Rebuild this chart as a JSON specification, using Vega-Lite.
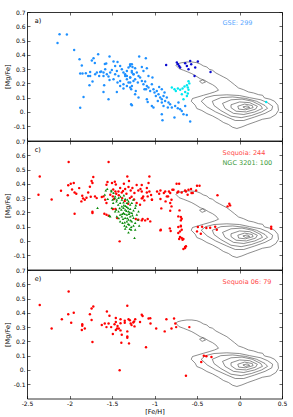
{
"$schema": "https://vega.github.io/schema/vega-lite/v6.json",
"background": "white",
"padding": {"left": 4, "top": 9, "right": 6, "bottom": 4},
"spacing": 0,
"bounds": "flush",
"config": {"font": "DejaVu Sans", "view": {"stroke": null},
  "axis": {"grid": false, "domainColor": "black", "tickColor": "black", "domainWidth": 0.8, "tickWidth": 0.6, "labelFontSize": 6, "labelColor": "black", "titleFontSize": 6.5, "titleFontWeight": "normal", "titleColor": "black", "labelFlush": false}},
"datasets": {
"contour": [
{"lev":1,"o":1,"x":-0.749,"y":0.327},{"lev":1,"o":2,"x":-0.725,"y":0.338},{"lev":1,"o":3,"x":-0.678,"y":0.345},{"lev":1,"o":4,"x":-0.619,"y":0.350},{"lev":1,"o":5,"x":-0.561,"y":0.350},{"lev":1,"o":6,"x":-0.502,"y":0.345},{"lev":1,"o":7,"x":-0.463,"y":0.336},{"lev":1,"o":8,"x":-0.423,"y":0.322},{"lev":1,"o":9,"x":-0.384,"y":0.315},{"lev":1,"o":10,"x":-0.357,"y":0.299},{"lev":1,"o":11,"x":-0.317,"y":0.292},{"lev":1,"o":12,"x":-0.278,"y":0.273},{"lev":1,"o":13,"x":-0.239,"y":0.261},{"lev":1,"o":14,"x":-0.188,"y":0.245},{"lev":1,"o":15,"x":-0.149,"y":0.233},{"lev":1,"o":16,"x":-0.110,"y":0.215},{"lev":1,"o":17,"x":-0.059,"y":0.191},{"lev":1,"o":18,"x":-0.012,"y":0.168},{"lev":1,"o":19,"x":0.047,"y":0.156},{"lev":1,"o":20,"x":0.106,"y":0.140},{"lev":1,"o":21,"x":0.165,"y":0.133},{"lev":1,"o":22,"x":0.224,"y":0.121},{"lev":1,"o":23,"x":0.271,"y":0.117},{"lev":1,"o":24,"x":0.294,"y":0.098},{"lev":1,"o":25,"x":0.361,"y":0.089},{"lev":1,"o":26,"x":0.412,"y":0.075},{"lev":1,"o":27,"x":0.451,"y":0.047},{"lev":1,"o":28,"x":0.459,"y":0.012},{"lev":1,"o":29,"x":0.428,"y":-0.018},{"lev":1,"o":30,"x":0.361,"y":-0.042},{"lev":1,"o":31,"x":0.271,"y":-0.051},{"lev":1,"o":32,"x":0.184,"y":-0.070},{"lev":1,"o":33,"x":0.098,"y":-0.088},{"lev":1,"o":34,"x":0.028,"y":-0.105},{"lev":1,"o":35,"x":-0.031,"y":-0.116},{"lev":1,"o":36,"x":-0.082,"y":-0.107},{"lev":1,"o":37,"x":-0.129,"y":-0.088},{"lev":1,"o":38,"x":-0.188,"y":-0.074},{"lev":1,"o":39,"x":-0.247,"y":-0.051},{"lev":1,"o":40,"x":-0.317,"y":-0.028},{"lev":1,"o":41,"x":-0.384,"y":-0.011},{"lev":1,"o":42,"x":-0.443,"y":0.010},{"lev":1,"o":43,"x":-0.502,"y":0.024},{"lev":1,"o":44,"x":-0.521,"y":0.047},{"lev":1,"o":45,"x":-0.568,"y":0.075},{"lev":1,"o":46,"x":-0.553,"y":0.094},{"lev":1,"o":47,"x":-0.490,"y":0.105},{"lev":1,"o":48,"x":-0.423,"y":0.117},{"lev":1,"o":49,"x":-0.357,"y":0.128},{"lev":1,"o":50,"x":-0.294,"y":0.140},{"lev":1,"o":51,"x":-0.247,"y":0.152},{"lev":1,"o":52,"x":-0.278,"y":0.175},{"lev":1,"o":53,"x":-0.317,"y":0.191},{"lev":1,"o":54,"x":-0.365,"y":0.205},{"lev":1,"o":55,"x":-0.412,"y":0.222},{"lev":1,"o":56,"x":-0.463,"y":0.233},{"lev":1,"o":57,"x":-0.513,"y":0.252},{"lev":1,"o":58,"x":-0.561,"y":0.268},{"lev":1,"o":59,"x":-0.608,"y":0.280},{"lev":1,"o":60,"x":-0.659,"y":0.292},{"lev":1,"o":61,"x":-0.710,"y":0.303},{"lev":1,"o":62,"x":-0.749,"y":0.327},
{"lev":2,"o":1,"x":-0.45,"y":0.075},{"lev":2,"o":2,"x":-0.40,"y":0.10},{"lev":2,"o":3,"x":-0.30,"y":0.115},{"lev":2,"o":4,"x":-0.15,"y":0.12},{"lev":2,"o":5,"x":0.0,"y":0.115},{"lev":2,"o":6,"x":0.12,"y":0.10},{"lev":2,"o":7,"x":0.25,"y":0.085},{"lev":2,"o":8,"x":0.33,"y":0.065},{"lev":2,"o":9,"x":0.39,"y":0.04},{"lev":2,"o":10,"x":0.38,"y":0.015},{"lev":2,"o":11,"x":0.30,"y":-0.01},{"lev":2,"o":12,"x":0.18,"y":-0.035},{"lev":2,"o":13,"x":0.05,"y":-0.06},{"lev":2,"o":14,"x":-0.05,"y":-0.06},{"lev":2,"o":15,"x":-0.15,"y":-0.035},{"lev":2,"o":16,"x":-0.28,"y":0.0},{"lev":2,"o":17,"x":-0.38,"y":0.035},{"lev":2,"o":18,"x":-0.45,"y":0.075},
{"lev":3,"o":1,"x":-0.32,"y":0.075},{"lev":3,"o":2,"x":-0.22,"y":0.10},{"lev":3,"o":3,"x":-0.08,"y":0.105},{"lev":3,"o":4,"x":0.07,"y":0.095},{"lev":3,"o":5,"x":0.20,"y":0.075},{"lev":3,"o":6,"x":0.30,"y":0.045},{"lev":3,"o":7,"x":0.33,"y":0.025},{"lev":3,"o":8,"x":0.26,"y":0.0},{"lev":3,"o":9,"x":0.14,"y":-0.025},{"lev":3,"o":10,"x":0.02,"y":-0.04},{"lev":3,"o":11,"x":-0.10,"y":-0.03},{"lev":3,"o":12,"x":-0.22,"y":0.01},{"lev":3,"o":13,"x":-0.30,"y":0.045},{"lev":3,"o":14,"x":-0.32,"y":0.075},
{"lev":4,"o":1,"x":-0.20,"y":0.06},{"lev":4,"o":2,"x":-0.10,"y":0.085},{"lev":4,"o":3,"x":0.03,"y":0.09},{"lev":4,"o":4,"x":0.15,"y":0.075},{"lev":4,"o":5,"x":0.25,"y":0.045},{"lev":4,"o":6,"x":0.27,"y":0.025},{"lev":4,"o":7,"x":0.18,"y":0.0},{"lev":4,"o":8,"x":0.05,"y":-0.018},{"lev":4,"o":9,"x":-0.07,"y":-0.01},{"lev":4,"o":10,"x":-0.17,"y":0.025},{"lev":4,"o":11,"x":-0.20,"y":0.06},
{"lev":5,"o":1,"x":-0.10,"y":0.05},{"lev":5,"o":2,"x":0.0,"y":0.07},{"lev":5,"o":3,"x":0.12,"y":0.065},{"lev":5,"o":4,"x":0.21,"y":0.04},{"lev":5,"o":5,"x":0.19,"y":0.02},{"lev":5,"o":6,"x":0.08,"y":0.0},{"lev":5,"o":7,"x":-0.04,"y":0.005},{"lev":5,"o":8,"x":-0.10,"y":0.03},{"lev":5,"o":9,"x":-0.10,"y":0.05},
{"lev":6,"o":1,"x":-0.02,"y":0.04},{"lev":6,"o":2,"x":0.06,"y":0.055},{"lev":6,"o":3,"x":0.15,"y":0.045},{"lev":6,"o":4,"x":0.16,"y":0.03},{"lev":6,"o":5,"x":0.07,"y":0.015},{"lev":6,"o":6,"x":-0.01,"y":0.02},{"lev":6,"o":7,"x":-0.02,"y":0.04},
{"lev":7,"o":1,"x":0.04,"y":0.035},{"lev":7,"o":2,"x":0.09,"y":0.042},{"lev":7,"o":3,"x":0.12,"y":0.032},{"lev":7,"o":4,"x":0.07,"y":0.025},{"lev":7,"o":5,"x":0.04,"y":0.035},
{"lev":8,"o":1,"x":-0.47,"y":0.215},{"lev":8,"o":2,"x":-0.43,"y":0.225},{"lev":8,"o":3,"x":-0.40,"y":0.21},{"lev":8,"o":4,"x":-0.44,"y":0.2},{"lev":8,"o":5,"x":-0.47,"y":0.215}
],
"gse": [
{"c":"g","x":-2.117,"y":0.544},{"c":"g","x":-2.031,"y":0.542},{"c":"g","x":-2.141,"y":0.483},{"c":"g","x":-1.945,"y":0.434},{"c":"g","x":-1.882,"y":0.369},{"c":"g","x":-1.855,"y":0.325},{"c":"g","x":-1.717,"y":0.376},{"c":"g","x":-1.737,"y":0.360},{"c":"g","x":-1.663,"y":0.404},{"c":"g","x":-1.702,"y":0.343},{"c":"g","x":-1.874,"y":0.269},{"c":"g","x":-1.847,"y":0.269},{"c":"g","x":-1.808,"y":0.271},{"c":"g","x":-1.757,"y":0.280},{"c":"g","x":-1.780,"y":0.252},{"c":"g","x":-1.757,"y":0.252},{"c":"g","x":-1.729,"y":0.213},{"c":"g","x":-1.765,"y":0.187},{"c":"g","x":-1.835,"y":0.105},{"c":"g","x":-1.874,"y":0.029},{"c":"g","x":-1.698,"y":0.264},{"c":"g","x":-1.678,"y":0.276},{"c":"g","x":-1.639,"y":0.280},{"c":"g","x":-1.600,"y":0.276},{"c":"g","x":-1.651,"y":0.252},{"c":"g","x":-1.600,"y":0.252},{"c":"g","x":-1.561,"y":0.264},{"c":"g","x":-1.627,"y":0.283},{"c":"g","x":-1.580,"y":0.299},{"c":"g","x":-1.568,"y":0.339},{"c":"g","x":-1.584,"y":0.336},{"c":"g","x":-1.529,"y":0.388},{"c":"g","x":-1.482,"y":0.353},{"c":"g","x":-1.435,"y":0.350},{"c":"g","x":-1.463,"y":0.322},{"c":"g","x":-1.502,"y":0.294},{"c":"g","x":-1.521,"y":0.276},{"c":"g","x":-1.541,"y":0.248},{"c":"g","x":-1.529,"y":0.224},{"c":"g","x":-1.592,"y":0.187},{"c":"g","x":-1.600,"y":0.140},{"c":"g","x":-1.541,"y":0.089},{"c":"g","x":-1.443,"y":0.287},{"c":"g","x":-1.463,"y":0.264},{"c":"g","x":-1.423,"y":0.252},{"c":"g","x":-1.482,"y":0.229},{"c":"g","x":-1.404,"y":0.217},{"c":"g","x":-1.435,"y":0.206},
{"c":"g","x":-1.404,"y":0.322},{"c":"g","x":-1.384,"y":0.299},{"c":"g","x":-1.365,"y":0.276},{"c":"g","x":-1.345,"y":0.252},{"c":"g","x":-1.325,"y":0.229},{"c":"g","x":-1.306,"y":0.206},{"c":"g","x":-1.404,"y":0.182},{"c":"g","x":-1.365,"y":0.194},{"c":"g","x":-1.345,"y":0.264},{"c":"g","x":-1.325,"y":0.287},{"c":"g","x":-1.306,"y":0.311},{"c":"g","x":-1.286,"y":0.322},{"c":"g","x":-1.266,"y":0.334},{"c":"g","x":-1.325,"y":0.252},{"c":"g","x":-1.286,"y":0.241},{"c":"g","x":-1.266,"y":0.276},{"c":"g","x":-1.247,"y":0.264},{"c":"g","x":-1.286,"y":0.206},{"c":"g","x":-1.247,"y":0.217},{"c":"g","x":-1.325,"y":0.182},{"c":"g","x":-1.365,"y":0.164},{"c":"g","x":-1.286,"y":0.171},{"c":"g","x":-1.266,"y":0.182},{"c":"g","x":-1.274,"y":0.159},{"c":"g","x":-1.443,"y":0.140},{"c":"g","x":-1.266,"y":0.047},
{"c":"g","x":-1.180,"y":0.388},{"c":"g","x":-1.102,"y":0.376},{"c":"g","x":-1.286,"y":0.334},{"c":"g","x":-1.259,"y":0.315},{"c":"g","x":-1.228,"y":0.306},{"c":"g","x":-1.267,"y":0.287},{"c":"g","x":-1.208,"y":0.276},{"c":"g","x":-1.247,"y":0.264},{"c":"g","x":-1.188,"y":0.252},{"c":"g","x":-1.286,"y":0.241},{"c":"g","x":-1.228,"y":0.229},{"c":"g","x":-1.169,"y":0.241},{"c":"g","x":-1.149,"y":0.217},{"c":"g","x":-1.196,"y":0.206},{"c":"g","x":-1.130,"y":0.194},{"c":"g","x":-1.110,"y":0.213},{"c":"g","x":-1.090,"y":0.182},{"c":"g","x":-1.118,"y":0.159},{"c":"g","x":-1.071,"y":0.171},{"c":"g","x":-1.051,"y":0.147},{"c":"g","x":-1.031,"y":0.194},{"c":"g","x":-1.012,"y":0.159},{"c":"g","x":-1.024,"y":0.241},{"c":"g","x":-1.071,"y":0.252},{"c":"g","x":-1.130,"y":0.287},{"c":"g","x":-1.149,"y":0.315},{"c":"g","x":-1.090,"y":0.306},{"c":"g","x":-1.000,"y":0.136},{"c":"g","x":-0.984,"y":0.112},{"c":"g","x":-0.953,"y":0.124},{"c":"g","x":-0.933,"y":0.101},{"c":"g","x":-0.914,"y":0.089},{"c":"g","x":-0.894,"y":0.112},{"c":"g","x":-0.875,"y":0.077},{"c":"g","x":-0.855,"y":0.101},{"c":"g","x":-0.835,"y":0.066},{"c":"g","x":-0.816,"y":0.054},{"c":"g","x":-0.796,"y":0.031},{"c":"g","x":-0.843,"y":0.031},{"c":"g","x":-0.894,"y":0.042},{"c":"g","x":-0.914,"y":0.066},{"c":"g","x":-0.961,"y":0.077},{"c":"g","x":-0.973,"y":0.147},{"c":"g","x":-0.945,"y":0.175},{"c":"g","x":-0.914,"y":0.159},{"c":"g","x":-0.882,"y":0.136},{"c":"g","x":-0.757,"y":0.042},{"c":"g","x":-0.726,"y":0.026},{"c":"g","x":-0.698,"y":0.019},{"c":"g","x":-0.679,"y":0.007},{"c":"g","x":-0.639,"y":0.042},{"c":"g","x":-0.659,"y":-0.016},{"c":"g","x":-0.620,"y":-0.021},{"c":"g","x":-0.718,"y":0.066},{"c":"g","x":-1.275,"y":0.054},{"c":"g","x":-1.228,"y":0.124},{"c":"g","x":-1.220,"y":0.147},{"c":"g","x":-1.188,"y":0.101},{"c":"g","x":-1.090,"y":0.089},{"c":"g","x":-1.031,"y":0.042},{"c":"g","x":-1.012,"y":0.031},{"c":"g","x":-0.914,"y":-0.016},{"c":"g","x":-0.906,"y":-0.058},{"c":"g","x":-0.765,"y":-0.039},{"c":"g","x":-0.580,"y":-0.067},{"c":"g","x":-1.10,"y":0.159},{"c":"g","x":-1.08,"y":0.07},
{"c":"cy","x":-0.796,"y":0.171},{"c":"cy","x":-0.765,"y":0.159},{"c":"cy","x":-0.725,"y":0.164},{"c":"cy","x":-0.698,"y":0.155},{"c":"cy","x":-0.670,"y":0.164},{"c":"cy","x":-0.647,"y":0.178},{"c":"cy","x":-0.619,"y":0.187},{"c":"cy","x":-0.608,"y":0.171},{"c":"cy","x":-0.600,"y":0.155},{"c":"cy","x":-0.639,"y":0.140},{"c":"cy","x":-0.678,"y":0.124},{"c":"cy","x":-0.619,"y":0.112},{"c":"cy","x":-0.659,"y":0.089},{"c":"cy","x":-0.608,"y":0.129},{"c":"cy","x":-0.749,"y":0.147},{"c":"cy","x":0.314,"y":0.07},{"c":"cy","x":-0.59,"y":0.2},{"c":"cy","x":-0.60,"y":0.215},
{"c":"d","x":-0.863,"y":0.329},{"c":"d","x":-0.737,"y":0.346},{"c":"d","x":-0.725,"y":0.334},{"c":"d","x":-0.710,"y":0.322},{"c":"d","x":-0.698,"y":0.311},{"c":"d","x":-0.639,"y":0.341},{"c":"d","x":-0.619,"y":0.322},{"c":"d","x":-0.580,"y":0.357},{"c":"d","x":-0.568,"y":0.334},{"c":"d","x":-0.490,"y":0.353},{"c":"d","x":-0.600,"y":0.299},{"c":"d","x":-0.521,"y":0.311},{"c":"d","x":-0.529,"y":0.252},{"c":"d","x":-0.341,"y":0.280}
],
"seq": [
{"x":-2.01,"y":0.553},{"x":-1.54,"y":0.553},{"x":-2.35,"y":0.452},{"x":-2.365,"y":0.324},{"x":-2.21,"y":0.29},{"x":-2.10,"y":0.352},{"x":-2.015,"y":0.39},{"x":-1.985,"y":0.40},{"x":-1.95,"y":0.406},{"x":-1.97,"y":0.36},{"x":-1.94,"y":0.34},{"x":-1.92,"y":0.33},{"x":-2.02,"y":0.32},{"x":-1.886,"y":0.37},{"x":-1.94,"y":0.19},{"x":-1.85,"y":0.317},{"x":-1.84,"y":0.298},{"x":-1.82,"y":0.289},{"x":-1.80,"y":0.303},{"x":-1.86,"y":0.277},{"x":-1.78,"y":0.34},{"x":-1.76,"y":0.38},{"x":-1.74,"y":0.42},{"x":-1.72,"y":0.448},{"x":-1.73,"y":0.406},{"x":-1.75,"y":0.31},{"x":-1.73,"y":0.205},{"x":-1.73,"y":0.196},{"x":-1.70,"y":0.312},{"x":-1.68,"y":0.30},{"x":-1.62,"y":0.308},{"x":-1.60,"y":0.312},{"x":-1.553,"y":0.413},{"x":-1.565,"y":0.394},{"x":-1.565,"y":0.266},{"x":-1.58,"y":0.289},{"x":-1.59,"y":0.19},{"x":-1.565,"y":0.184},{"x":-1.54,"y":0.177},{"x":-1.50,"y":0.406},{"x":-1.467,"y":0.415},{"x":-1.455,"y":0.396},{"x":-1.486,"y":0.36},{"x":-1.46,"y":0.347},{"x":-1.52,"y":0.324},{"x":-1.49,"y":0.312},{"x":-1.475,"y":0.294},{"x":-1.44,"y":0.16},{"x":-1.41,"y":-0.003},{"x":-1.49,"y":0.224},{"x":-1.46,"y":0.224},
{"x":-1.32,"y":0.452},{"x":-1.06,"y":0.452},{"x":-1.404,"y":0.371},{"x":-1.424,"y":0.347},{"x":-1.385,"y":0.34},{"x":-1.345,"y":0.364},{"x":-1.306,"y":0.378},{"x":-1.28,"y":0.354},{"x":-1.26,"y":0.371},{"x":-1.236,"y":0.336},{"x":-1.21,"y":0.392},{"x":-1.19,"y":0.354},{"x":-1.15,"y":0.392},{"x":-1.165,"y":0.364},{"x":-1.133,"y":0.312},{"x":-1.09,"y":0.34},{"x":-1.06,"y":0.347},{"x":-1.07,"y":0.406},{"x":-1.04,"y":0.322},{"x":-1.03,"y":0.289},{"x":-1.08,"y":0.312},{"x":-1.15,"y":0.298},{"x":-1.12,"y":0.284},{"x":-1.21,"y":0.266},{"x":-1.17,"y":0.254},{"x":-1.15,"y":0.144},{"x":-1.08,"y":0.154},{"x":-1.05,"y":0.137},{"x":-0.93,"y":0.354},{"x":-0.89,"y":0.336},{"x":-0.83,"y":0.347},{"x":-0.79,"y":0.359},{"x":-0.73,"y":0.34},{"x":-0.71,"y":0.40},{"x":-0.63,"y":0.347},{"x":-0.61,"y":0.324},{"x":-0.55,"y":0.336},{"x":-0.51,"y":0.354},{"x":-0.47,"y":0.387},{"x":-0.57,"y":0.364},{"x":-0.93,"y":0.294},{"x":-0.87,"y":0.277},{"x":-0.84,"y":0.312},{"x":-0.80,"y":0.289},{"x":-0.815,"y":0.212},{"x":-0.92,"y":0.228},{"x":-0.72,"y":0.172},{"x":-0.69,"y":0.144},{"x":-0.93,"y":0.074},{"x":-0.82,"y":0.088},{"x":-0.81,"y":0.07},{"x":-0.72,"y":0.056},{"x":-0.70,"y":0.028},{"x":-0.66,"y":0.014},{"x":-0.71,"y":0.014},{"x":-0.64,"y":-0.049},{"x":-0.63,"y":-0.037},{"x":-0.72,"y":0.098},{"x":-0.69,"y":0.107},
{"x":-0.74,"y":0.40},{"x":-0.50,"y":0.387},{"x":-0.259,"y":0.32},{"x":-0.12,"y":0.261},{"x":-0.11,"y":0.249},{"x":-0.14,"y":0.242},{"x":0.373,"y":0.10},{"x":0.373,"y":0.086},{"x":-0.49,"y":0.098},{"x":-0.44,"y":0.10},{"x":-0.39,"y":0.09},{"x":-0.345,"y":0.093},{"x":-0.286,"y":0.10},{"x":-0.267,"y":0.079},{"x":-0.455,"y":0.051},{"x":-0.50,"y":0.067},{"x":-0.68,"y":0.156},{"x":-0.69,"y":0.102},{"x":-0.68,"y":0.079},{"x":-0.70,"y":0.067},{"x":-0.68,"y":0.021},{"x":-0.67,"y":0.009},{"x":-0.64,"y":-0.042},{"x":-0.66,"y":-0.056},{"x":-0.926,"y":0.079},{"x":-1.15,"y":0.347},{"x":-1.09,"y":0.371},{"x":-1.14,"y":0.301},{"x":-1.03,"y":0.289},{"x":-0.97,"y":0.347},{"x":-0.945,"y":0.331},{"x":-0.874,"y":0.347},{"x":-0.855,"y":0.312},{"x":-0.815,"y":0.336},{"x":-0.776,"y":0.359},{"x":-0.72,"y":0.347},{"x":-0.68,"y":0.34},{"x":-0.64,"y":0.354},{"x":-0.60,"y":0.359},{"x":-0.565,"y":0.336},{"x":-1.19,"y":0.149},{"x":-1.14,"y":0.154},{"x":-1.11,"y":0.144},{"x":-0.815,"y":0.266},{"x":-0.80,"y":0.242},{"x":-0.706,"y":0.214},{"x":-0.69,"y":0.168},{"x":-1.22,"y":0.154},
{"x":-1.38,"y":0.30},{"x":-1.33,"y":0.33},{"x":-1.29,"y":0.30},{"x":-1.35,"y":0.28},{"x":-1.42,"y":0.32},{"x":-1.27,"y":0.31},{"x":-1.31,"y":0.26},{"x":-1.37,"y":0.35},{"x":-1.24,"y":0.29},{"x":-1.45,"y":0.33},{"x":-1.30,"y":0.42},{"x":-1.36,"y":0.40}
],
"ngc": [
{"x":-1.510,"y":0.354},{"x":-1.482,"y":0.336},{"x":-1.463,"y":0.312},{"x":-1.494,"y":0.289},{"x":-1.443,"y":0.289},{"x":-1.423,"y":0.301},{"x":-1.404,"y":0.266},{"x":-1.384,"y":0.289},{"x":-1.365,"y":0.270},{"x":-1.345,"y":0.294},{"x":-1.325,"y":0.266},{"x":-1.306,"y":0.277},{"x":-1.286,"y":0.254},{"x":-1.267,"y":0.266},{"x":-1.384,"y":0.242},{"x":-1.365,"y":0.231},{"x":-1.345,"y":0.219},{"x":-1.325,"y":0.238},{"x":-1.306,"y":0.207},{"x":-1.286,"y":0.224},{"x":-1.267,"y":0.196},{"x":-1.247,"y":0.214},{"x":-1.227,"y":0.231},{"x":-1.208,"y":0.184},{"x":-1.188,"y":0.207},{"x":-1.423,"y":0.207},{"x":-1.404,"y":0.184},{"x":-1.384,"y":0.172},{"x":-1.365,"y":0.196},{"x":-1.345,"y":0.161},{"x":-1.325,"y":0.184},{"x":-1.306,"y":0.149},{"x":-1.286,"y":0.172},{"x":-1.267,"y":0.137},{"x":-1.247,"y":0.161},{"x":-1.227,"y":0.126},{"x":-1.404,"y":0.137},{"x":-1.376,"y":0.126},{"x":-1.353,"y":0.107},{"x":-1.325,"y":0.137},{"x":-1.298,"y":0.114},{"x":-1.274,"y":0.098},{"x":-1.247,"y":0.107},{"x":-1.227,"y":0.079},{"x":-1.345,"y":0.086},{"x":-1.274,"y":0.079},{"x":-1.235,"y":0.021},{"x":-1.502,"y":0.231},{"x":-1.463,"y":0.207},{"x":-1.443,"y":0.172},{"x":-1.521,"y":0.172},{"x":-1.196,"y":0.149},{"x":-1.180,"y":0.107},{"x":-1.306,"y":0.060},
{"x":-1.573,"y":0.354},{"x":-1.556,"y":0.364},{"x":-1.67,"y":0.231},{"x":-1.53,"y":0.177},{"x":-1.585,"y":0.324},{"x":-1.55,"y":0.294},{"x":-1.506,"y":0.347},{"x":-1.467,"y":0.30},{"x":-1.447,"y":0.277},{"x":-1.427,"y":0.254},{"x":-1.486,"y":0.266},{"x":-1.29,"y":0.084},
{"x":-1.36,"y":0.25},{"x":-1.33,"y":0.21},{"x":-1.39,"y":0.22},{"x":-1.35,"y":0.19},{"x":-1.31,"y":0.23},{"x":-1.29,"y":0.20},{"x":-1.41,"y":0.23},{"x":-1.38,"y":0.19},{"x":-1.34,"y":0.245},{"x":-1.30,"y":0.19},{"x":-1.37,"y":0.155},{"x":-1.32,"y":0.16},{"x":-1.28,"y":0.145},{"x":-1.35,"y":0.13},{"x":-1.31,"y":0.12},{"x":-1.26,"y":0.18},{"x":-1.22,"y":0.25},{"x":-1.40,"y":0.31},{"x":-1.36,"y":0.32},{"x":-1.32,"y":0.29},{"x":-1.42,"y":0.16},{"x":-1.45,"y":0.22},{"x":-1.25,"y":0.29},{"x":-1.33,"y":0.10}
],
"seq06": [
{"x":-2.35,"y":0.455},{"x":-2.01,"y":0.55},{"x":-2.21,"y":0.29},{"x":-2.09,"y":0.355},{"x":-1.95,"y":0.40},{"x":-1.98,"y":0.33},{"x":-2.015,"y":0.39},{"x":-1.85,"y":0.32},{"x":-1.85,"y":0.31},{"x":-1.855,"y":0.28},{"x":-1.82,"y":0.29},{"x":-1.76,"y":0.39},{"x":-1.74,"y":0.43},{"x":-1.72,"y":0.445},{"x":-1.74,"y":0.35},{"x":-1.73,"y":0.196},{"x":-1.56,"y":0.41},{"x":-1.53,"y":0.38},{"x":-1.62,"y":0.315},{"x":-1.585,"y":0.325},{"x":-1.565,"y":0.30},{"x":-1.54,"y":0.325},{"x":-1.51,"y":0.30},{"x":-1.49,"y":0.252},{"x":-1.47,"y":0.32},{"x":-1.455,"y":0.364},{"x":-1.455,"y":0.336},{"x":-1.435,"y":0.308},{"x":-1.455,"y":0.28},{"x":-1.44,"y":0.29},{"x":-1.42,"y":0.29},{"x":-1.40,"y":0.355},{"x":-1.40,"y":0.327},{"x":-1.40,"y":0.277},{"x":-1.385,"y":0.246},{"x":-1.39,"y":0.19},{"x":-1.41,"y":-0.002},{"x":-1.35,"y":0.33},{"x":-1.35,"y":0.345},{"x":-1.32,"y":0.45},{"x":-1.32,"y":0.27},{"x":-1.32,"y":0.235},{"x":-1.32,"y":0.226},{"x":-1.305,"y":0.355},{"x":-1.29,"y":0.348},{"x":-1.30,"y":0.186},{"x":-1.28,"y":0.325},{"x":-1.27,"y":0.314},{"x":-1.25,"y":0.332},{"x":-1.24,"y":0.339},{"x":-1.227,"y":0.355},{"x":-1.235,"y":0.305},{"x":-1.17,"y":0.336},{"x":-1.15,"y":0.387},{"x":-1.14,"y":0.378},{"x":-1.10,"y":0.159},{"x":-1.07,"y":0.36},{"x":-1.05,"y":0.362},{"x":-1.047,"y":0.325},{"x":-0.98,"y":0.29},{"x":-0.88,"y":0.27},{"x":-0.86,"y":0.355},{"x":-0.80,"y":0.29},{"x":-0.77,"y":0.36},{"x":-0.755,"y":0.325},{"x":-0.745,"y":0.30},{"x":-0.59,"y":0.30},{"x":-0.42,"y":0.10},{"x":-0.39,"y":0.096},{"x":-0.33,"y":0.09},{"x":-0.45,"y":0.055},{"x":-0.63,"y":-0.04}
]
},
"vconcat": [
{
"width": 255, "height": 128.5,
"resolve": {"axis": {"x": "independent", "y": "independent"}},
"layer": [
 {"data": {"name": "contour"}, "mark": {"type": "line", "color": "#404040", "strokeWidth": 0.6},
  "encoding": {
   "x": {"field": "x", "type": "quantitative", "scale": {"domain": [-2.5, 0.5], "nice": false, "zero": false}, "axis": {"orient": "bottom", "values": [-2.5,-2,-1.5,-1,-0.5,0,0.5], "tickSize": -3, "labels": false, "title": null}},
   "y": {"field": "y", "type": "quantitative", "scale": {"domain": [-0.2, 0.7], "nice": false, "zero": false}, "axis": {"orient": "left", "values": [-0.1,0,0.1,0.2,0.3,0.4,0.5,0.6,0.7], "tickSize": -3, "labelPadding": 5, "title": "[Mg/Fe]", "titlePadding": 3, "labelExpr": "datum.value == 0 ? '0.' : replace(format(datum.value, '.1f'), '\u2212', '-')"}},
   "detail": {"field": "lev"}, "order": {"field": "o"}}},
 {"data": {"name": "gse"}, "mark": {"type": "circle", "size": 6, "opacity": 1},
  "encoding": {
   "x": {"field": "x", "type": "quantitative", "scale": {"domain": [-2.5, 0.5], "nice": false, "zero": false}, "axis": {"orient": "top", "values": [-2.5,-2,-1.5,-1,-0.5,0,0.5], "tickSize": -3, "labels": false, "title": null}},
   "y": {"field": "y", "type": "quantitative", "scale": {"domain": [-0.2, 0.7], "nice": false, "zero": false}, "axis": {"orient": "right", "values": [-0.1,0,0.1,0.2,0.3,0.4,0.5,0.6,0.7], "tickSize": -3, "labels": false, "title": null}},
   "color": {"field": "c", "type": "nominal", "scale": {"domain": ["g","cy","d"], "range": ["#1e90ff","#00e8f0","#0a0ad0"]}, "legend": null}}},
 {"data": {"values": [{}]}, "mark": {"type": "text", "align": "left", "baseline": "middle", "fontSize": 6.5, "color": "#5aa8ff"},
  "encoding": {"x": {"datum": -0.2, "type": "quantitative", "axis": null}, "y": {"datum": 0.62, "type": "quantitative", "axis": null}, "text": {"value": "GSE: 299"}}},
 {"data": {"values": [{}]}, "mark": {"type": "text", "align": "left", "baseline": "middle", "fontSize": 6.5, "color": "black"},
  "encoding": {"x": {"datum": -2.41, "type": "quantitative", "axis": null}, "y": {"datum": 0.635, "type": "quantitative", "axis": null}, "text": {"value": "a)"}}}
]
},
{
"width": 255, "height": 128.5,
"resolve": {"axis": {"x": "independent", "y": "independent"}},
"layer": [
 {"data": {"name": "contour"}, "mark": {"type": "line", "color": "#404040", "strokeWidth": 0.6},
  "encoding": {
   "x": {"field": "x", "type": "quantitative", "scale": {"domain": [-2.5, 0.5], "nice": false, "zero": false}, "axis": {"orient": "bottom", "values": [-2.5,-2,-1.5,-1,-0.5,0,0.5], "tickSize": -3, "labels": false, "title": null}},
   "y": {"field": "y", "type": "quantitative", "scale": {"domain": [-0.2, 0.7], "nice": false, "zero": false}, "axis": {"orient": "left", "values": [-0.1,0,0.1,0.2,0.3,0.4,0.5,0.6,0.7], "tickSize": -3, "labelPadding": 5, "title": "[Mg/Fe]", "titlePadding": 3, "labelExpr": "datum.value == 0 ? '0.' : replace(format(datum.value, '.1f'), '\u2212', '-')"}},
   "detail": {"field": "lev"}, "order": {"field": "o"}}},
 {"data": {"name": "seq"}, "mark": {"type": "circle", "size": 6, "opacity": 1, "color": "#ff0000"},
  "encoding": {
   "x": {"field": "x", "type": "quantitative", "scale": {"domain": [-2.5, 0.5], "nice": false, "zero": false}, "axis": {"orient": "top", "values": [-2.5,-2,-1.5,-1,-0.5,0,0.5], "tickSize": -3, "labels": false, "title": null}},
   "y": {"field": "y", "type": "quantitative", "scale": {"domain": [-0.2, 0.7], "nice": false, "zero": false}, "axis": {"orient": "right", "values": [-0.1,0,0.1,0.2,0.3,0.4,0.5,0.6,0.7], "tickSize": -3, "labels": false, "title": null}}}},
 {"data": {"name": "ngc"}, "mark": {"type": "point", "shape": "triangle-up", "filled": true, "size": 7, "opacity": 1, "color": "#0a8a0a"},
  "encoding": {
   "x": {"field": "x", "type": "quantitative", "scale": {"domain": [-2.5, 0.5], "nice": false, "zero": false}, "axis": null},
   "y": {"field": "y", "type": "quantitative", "scale": {"domain": [-0.2, 0.7], "nice": false, "zero": false}, "axis": null}}},
 {"data": {"values": [{}]}, "mark": {"type": "text", "align": "left", "baseline": "middle", "fontSize": 6.5, "color": "#ff4a4a"},
  "encoding": {"x": {"datum": -0.2, "type": "quantitative", "axis": null}, "y": {"datum": 0.616, "type": "quantitative", "axis": null}, "text": {"value": "Sequoia: 244"}}},
 {"data": {"values": [{}]}, "mark": {"type": "text", "align": "left", "baseline": "middle", "fontSize": 6.5, "color": "#3a9a3a"},
  "encoding": {"x": {"datum": -0.2, "type": "quantitative", "axis": null}, "y": {"datum": 0.546, "type": "quantitative", "axis": null}, "text": {"value": "NGC 3201: 100"}}},
 {"data": {"values": [{}]}, "mark": {"type": "text", "align": "left", "baseline": "middle", "fontSize": 6.5, "color": "black"},
  "encoding": {"x": {"datum": -2.41, "type": "quantitative", "axis": null}, "y": {"datum": 0.635, "type": "quantitative", "axis": null}, "text": {"value": "c)"}}}
]
},
{
"width": 255, "height": 128.5,
"resolve": {"axis": {"x": "independent", "y": "independent"}},
"layer": [
 {"data": {"name": "contour"}, "mark": {"type": "line", "color": "#404040", "strokeWidth": 0.6},
  "encoding": {
   "x": {"field": "x", "type": "quantitative", "scale": {"domain": [-2.5, 0.5], "nice": false, "zero": false}, "axis": {"orient": "bottom", "values": [-2.5,-2,-1.5,-1,-0.5,0,0.5], "tickSize": -3, "labelPadding": 5, "title": "[Fe/H]", "titlePadding": 2, "labelExpr": "replace(format(datum.value, '~g'), '\u2212', '-')"}},
   "y": {"field": "y", "type": "quantitative", "scale": {"domain": [-0.2, 0.7], "nice": false, "zero": false}, "axis": {"orient": "left", "values": [-0.1,0,0.1,0.2,0.3,0.4,0.5,0.6,0.7], "tickSize": -3, "labelPadding": 5, "title": "[Mg/Fe]", "titlePadding": 3, "labelExpr": "datum.value == 0 ? '0.' : replace(format(datum.value, '.1f'), '\u2212', '-')"}},
   "detail": {"field": "lev"}, "order": {"field": "o"}}},
 {"data": {"name": "seq06"}, "mark": {"type": "circle", "size": 6, "opacity": 1, "color": "#ff0000"},
  "encoding": {
   "x": {"field": "x", "type": "quantitative", "scale": {"domain": [-2.5, 0.5], "nice": false, "zero": false}, "axis": {"orient": "top", "values": [-2.5,-2,-1.5,-1,-0.5,0,0.5], "tickSize": -3, "labels": false, "title": null}},
   "y": {"field": "y", "type": "quantitative", "scale": {"domain": [-0.2, 0.7], "nice": false, "zero": false}, "axis": {"orient": "right", "values": [-0.1,0,0.1,0.2,0.3,0.4,0.5,0.6,0.7], "tickSize": -3, "labels": false, "title": null}}}},
 {"data": {"values": [{}]}, "mark": {"type": "text", "align": "left", "baseline": "middle", "fontSize": 6.5, "color": "#ff4a4a"},
  "encoding": {"x": {"datum": -0.2, "type": "quantitative", "axis": null}, "y": {"datum": 0.618, "type": "quantitative", "axis": null}, "text": {"value": "Sequoia 06: 79"}}},
 {"data": {"values": [{}]}, "mark": {"type": "text", "align": "left", "baseline": "middle", "fontSize": 6.5, "color": "black"},
  "encoding": {"x": {"datum": -2.41, "type": "quantitative", "axis": null}, "y": {"datum": 0.635, "type": "quantitative", "axis": null}, "text": {"value": "e)"}}}
]
}
]
}
